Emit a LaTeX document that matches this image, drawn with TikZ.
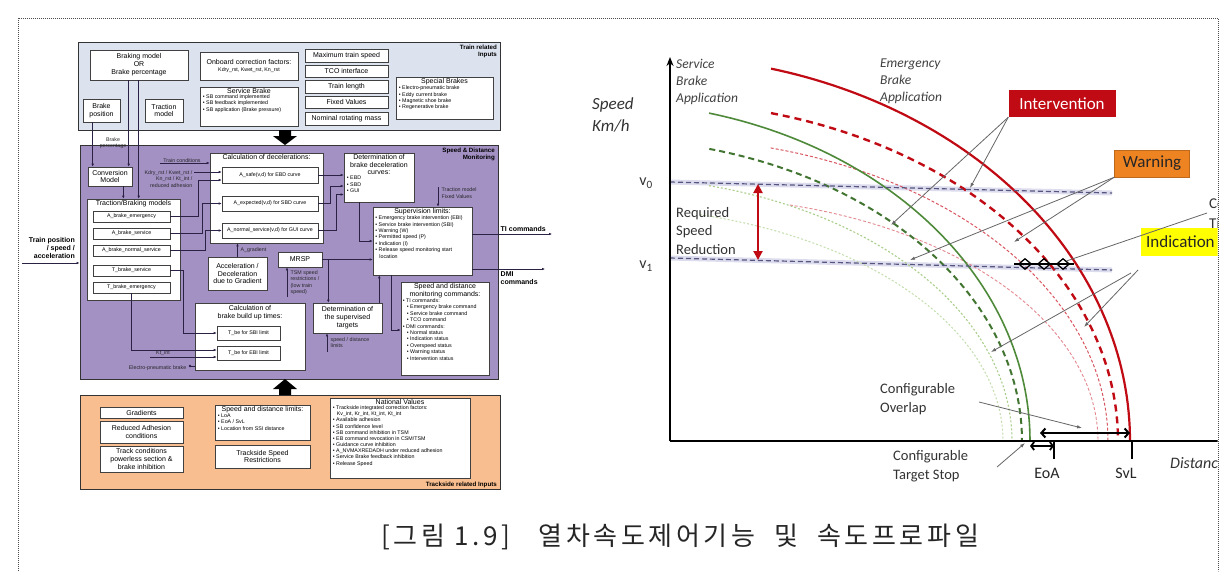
\documentclass[tikz,border=0pt]{standalone}
\usepackage{fontspec}
\setmainfont{Liberation Sans}
\newfontfamily\arialf{Liberation Sans}
\newfontfamily\calf{Carlito}
\newfontfamily\krf[LetterSpace=14]{Noto Sans CJK KR}
\usetikzlibrary{arrows.meta,shapes.geometric,calc}
\definecolor{topfill}{HTML}{DDE3EE}
\definecolor{midfill}{HTML}{A391C4}
\definecolor{botfill}{HTML}{F9BE8F}
\definecolor{linec}{HTML}{2B2145}
\definecolor{ivred}{HTML}{C00A14}
\definecolor{wnor}{HTML}{EE8322}
\definecolor{indy}{HTML}{FFFF00}
\definecolor{sbgreen}{HTML}{4E8A3A}
\definecolor{lgreen}{HTML}{A9CE8A}
\definecolor{pinkr}{HTML}{D95560}
\definecolor{vline}{HTML}{55557F}
\definecolor{vband}{HTML}{DCDCEE}
\newcommand\fA{\arialf\fontsize{7}{7.9}\selectfont}
\newcommand\fB{\arialf\fontsize{5.3}{6.4}\selectfont}
\newcommand\fT{\arialf\bfseries\fontsize{6.2}{7}\selectfont}
\newcommand\cf[2]{\calf\fontsize{#1}{#2}\selectfont}
\newcommand\bl{\textbullet\ }
\newcommand\ind{\hspace*{4pt}}
\tikzset{
 lbox/.style={draw=black!75, fill=white, line width=0.6pt, inner sep=0pt, align=center, font=\fA},
 panel/.style={draw=black!80, line width=0.9pt},
 conn/.style={draw=linec, line width=0.6pt, -{Latex[length=3pt,width=2.6pt]}},
 plain/.style={draw=linec, line width=0.6pt},
 lab/.style={font=\fB, inner sep=0.5pt, align=center, text=black!85},
 ann/.style={draw=black!60, line width=0.8pt, -{Latex[length=5pt,width=3.5pt]}},
 barb/.style={line width=2pt, {Straight Barb[length=4pt,width=9pt]}-{Straight Barb[length=4pt,width=9pt]}},
}
\newcommand\bx[7][]{\node[lbox,minimum width={(#5-#3)*1pt},minimum height={(#6-#4)*1pt},#1] (#2) at ({(#3+#5)/2},{(#4+#6)/2}) {#7};}
\newcommand\ttl[3][1.2]{\node[font=\fA,anchor=north,align=center,inner sep=0pt] (#2-t) at ($(#2.north)+(0,#1)$) {#3};}
\newcommand\bul[3][3]{\node[font=\fB,anchor=north west,align=left,inner sep=0pt] (#2-b) at ($(#2-t.south -| #2.west)+(#1,0.8)$) {#3};}
\newcommand\ecurve[5][]{\draw[#1] plot[domain=#5:0,samples=70,variable=\t] ({#2+#3*cos(\t)},{441-#4*sin(\t)});}
\begin{document}
\begin{tikzpicture}[x=1pt,y=-1pt]
\useasboundingbox (0,0) rectangle (1226,571);
\fill[white] (0,0) rectangle (1226,571);
\draw[black!70, line width=0.8pt, dash pattern=on 0.8pt off 1.2pt] (18,571) -- (18,18) -- (1218,18) -- (1218,571);

% ---------- top panel ----------
\bx[panel,fill=topfill]{trin}{78}{42}{500}{130}{}
\node[font=\fT,align=right,anchor=north east,inner sep=0pt] (trin-l) at (497,45) {Train related\\Inputs};
\bx{bmodel}{90}{50}{188}{80}{Braking model\\OR\\Brake percentage}
\bx{onb}{200}{52}{298}{80}{Onboard correction factors:\\{\fB Kdry\_rst, Kwet\_rst, Kn\_rst}}
\bx{bpos}{83}{99}{120}{122}{Brake\\position}
\bx{tmod}{145}{99}{183}{122}{Traction\\model}
\bx{sbrk}{200}{87}{298}{126}{}
\ttl{sbrk}{Service Brake}
\bul{sbrk}{\bl SB command implemented\\\bl SB feedback implemented\\\bl SB application (Brake pressure)}
\bx{mts}{305}{49}{388}{62}{Maximum train speed}
\bx{tco}{305}{65}{388}{77}{TCO interface}
\bx{tlen}{305}{80}{388}{93}{Train length}
\bx{fval}{305}{96}{388}{108}{Fixed Values}
\bx{nrm}{305}{112}{388}{125}{Nominal rotating mass}
\bx{spb}{396}{77}{493}{119}{}
\ttl{spb}{Special Brakes}
\bul{spb}{\bl Electro-pneumatic brake\\\bl Eddy current brake\\\bl Magnetic shoe brake\\\bl Regenerative brake}

% ---------- middle panel ----------
\bx[panel,fill=midfill]{sdm}{80}{145}{498}{379}{}
\node[font=\fT,align=right,anchor=north east,inner sep=0pt] (sdm-l) at (495,148) {Speed \& Distance\\Monitoring};
\bx{conv}{88}{167}{132}{186}{Conversion\\Model}
\bx{tbm}{87}{199}{180}{300}{}
\ttl{tbm}{Traction/Braking models}
\bx[font=\fB]{abe}{93}{211}{170}{222}{A\_brake\_emergency}
\bx[font=\fB]{abs}{93}{228}{170}{239}{A\_brake\_service}
\bx[font=\fB]{abn}{93}{245}{170}{256}{A\_brake\_normal\_service}
\bx[font=\fB]{tbs}{93}{265}{170}{276}{T\_brake\_service}
\bx[font=\fB]{tbe}{93}{282}{170}{293}{T\_brake\_emergency}
\bx{cdec}{210}{153}{323}{243}{}
\ttl{cdec}{Calculation of decelerations:}
\bx[font=\fB]{asafe}{222}{167}{318}{183}{A\_safe(v,d) for EBD curve}
\bx[font=\fB]{aexp}{222}{196}{318}{211}{A\_expected(v,d) for SBD curve}
\bx[font=\fB]{anorm}{222}{223}{318}{238}{A\_normal\_service(v,d) for GUI curve}
\bx{accg}{208}{257}{267}{290}{Acceleration /\\Deceleration\\due to Gradient}
\bx{mrsp}{278}{252}{322}{267}{MRSP}
\bx{cbt}{195}{303}{305}{370}{}
\ttl[3]{cbt}{Calculation of\\brake build up times:}
\bx[font=\fB]{tsbi}{217}{326}{280}{340}{T\_be for SBI limit}
\bx[font=\fB]{tebi}{217}{346}{280}{360}{T\_be for EBI limit}
\bx{dst}{313}{303}{382}{333}{Determination of\\the supervised\\targets}
\bx{dbc}{344}{153}{414}{202}{}
\ttl{dbc}{Determination of\\brake deceleration\\curves:}
\bul{dbc}{\bl EBD\\\bl SBD\\\bl GUI}
\bx{svl}{373}{207}{472}{275}{}
\ttl{svl}{Supervision limits:}
\bul[2.5]{svl}{\bl Emergency brake intervention (EBI)\\\bl Service brake intervention (SBI)\\\bl Warning (W)\\\bl Permitted speed (P)\\\bl Indication (I)\\\bl Release speed monitoring start\\\ind location}
\bx{sdc}{401}{282}{489}{375}{}
\ttl{sdc}{Speed and distance\\monitoring commands:}
\bul[2]{sdc}{\bl TI commands:\\\ind\bl Emergency brake command\\\ind\bl Service brake command\\\ind\bl TCO command\\\bl DMI commands:\\\ind\bl Normal status\\\ind\bl Indication status\\\ind\bl Overspeed status\\\ind\bl Warning status\\\ind\bl Intervention status}

% ---------- bottom panel ----------
\bx[panel,fill=botfill]{trk}{80}{395}{500}{489}{}
\node[font=\fT,anchor=south east,inner sep=0pt] (trk-l) at (497,488) {Trackside related Inputs};
\bx{grad}{100}{407}{183}{418}{Gradients}
\bx{radh}{100}{421}{183}{443}{Reduced Adhesion\\conditions}
\bx{tcond}{100}{446}{183}{472}{Track conditions\\powerless section \&\\brake inhibition}
\bx{sdl}{215}{405}{310}{440}{}
\ttl{sdl}{Speed and distance limits:}
\bul{sdl}{\bl LoA\\\bl EoA / SvL\\\bl Location from SSI distance}
\bx{tsr}{215}{445}{310}{468}{Trackside Speed\\Restrictions}
\bx{nv}{330}{398}{470}{478}{}
\ttl[1.8]{nv}{National Values}
\node[font=\arialf\fontsize{5.3}{6.15}\selectfont,anchor=north west,align=left,inner sep=0pt] (nv-b) at ($(nv-t.south -| nv.west)+(3,0.6)$) {\bl Trackside integrated correction factors:\\\ind Kv\_int, Kr\_int, Kt\_int, Kt\_int\\\bl Available adhesion\\\bl SB confidence level\\\bl SB command inhibition in TSM\\\bl EB command revocation in CSM/TSM\\\bl Guidance curve inhibition\\\bl A\_NVMAXREDADH under reduced adhesion\\\bl Service Brake feedback inhibition\\\bl Release Speed};

% big block arrows
\fill (279,130) -- (291,130) -- (291,136) -- (297,136) -- (285,145) -- (273,136) -- (279,136) -- cycle;
\fill (279,395) -- (291,395) -- (291,389) -- (297,389) -- (285,379) -- (273,389) -- (279,389) -- cycle;

% ---------- labels & connectors ----------
\node[lab,anchor=north east] (bperc) at (127,137) {Brake\\percentage};
\coordinate (bp1) at ([xshift=10pt]bpos.south west);
\coordinate (bm1) at ([xshift=39pt]bmodel.south west);
\coordinate (bm2) at ([xshift=49pt]bmodel.south west);
\coordinate (cv1) at ([xshift=-9pt]conv.south east);
\draw[conn] (bp1) -- (bp1 |- conv.north);
\draw[conn] (bm1) -- (bm1 |- conv.north);
\draw[conn] (bm2) -- (bm2 |- tbm.north);
\draw[conn] (cv1) -- (cv1 |- tbm.north);

\node[font=\fA\bfseries,align=right,anchor=east,inner sep=0pt] (tpos) at (75,248) {Train position\\/ speed /\\acceleration};
\coordinate (tpin) at (22,263);
\draw[conn] (tpin) -- (tpin -| sdm.west);

\coordinate (tcin) at (160,163);
\draw[conn] (tcin) -- (tcin -| cdec.west);
\node[lab,anchor=south] (tcl) at (182,163) {Train conditions};
\node[lab,align=right,anchor=north east] (kdl) at (193,170) {Kdry\_rst / Kwet\_rst /\\Kn\_rst / Kt\_int /\\reduced adhesion};
\coordinate (kd) at (194,172);
\draw[conn] (kd) -- (kd -| asafe.west);
\draw[conn] (abe.east) -- ++(28,0) |- ([yshift=-5pt]asafe.west);
\draw[conn] (abs.east) -- ++(32,0) |- (aexp.west);
\draw[conn] (abn.east) -- ++(35,0) |- (anorm.west);
\draw[conn] (tbs.east) -- ++(13,0) |- (tsbi.west);
\draw[conn] (tbe.south) |- ([yshift=3pt]tebi.west);
\coordinate (ktin) at (150,357);
\draw[conn] (ktin) -- (ktin -| tebi.west);
\node[lab,anchor=south] (ktl) at (163,356) {Kt\_int};
\node[lab,anchor=east] (epl) at (187,368) {Electro-pneumatic brake};
\coordinate (epb) at (190,366);
\draw[plain] (epb) -- (epb -| cbt.west);
\fill[linec] (epb) circle (1.4pt);

\draw[conn] (accg.north) -- (accg.north |- cdec.south);
\node[lab,anchor=west] (agl) at (240,250) {A\_gradient};
\draw[conn] (asafe.east) -- (asafe.east -| dbc.west);
\draw[conn] (aexp.east) -- ++(12,0) |- ([yshift=-8.5pt]dbc.west);
\draw[conn] (anorm.east) -- ++(18,0) |- ([yshift=-17pt]dbc.west);
\coordinate (dbc1) at ([xshift=16pt]dbc.south west);
\draw[conn] (dbc1) |- (svl.west);
\coordinate (tfv) at (438,187);
\draw[conn] (tfv) -- (tfv |- svl.north);
\node[lab,align=left,anchor=west] (tfvl) at (441,193) {Traction model\\Fixed Values};
\draw[conn] (mrsp.east) -- (mrsp.east -| svl.west);
\coordinate (mr1) at ([xshift=6pt]mrsp.east);
\draw[conn] (mr1) -- (mr1 |- dst.north);
\coordinate (tsm) at (287,297);
\draw[conn] (tsm) -- (tsm |- mrsp.south);
\node[lab,align=left,anchor=north west] (tsml) at (290,270) {TSM speed\\restrictions /\\(low train\\speed)};
\coordinate (sdli) at (327,352);
\draw[conn] (sdli) -- (sdli |- dst.south);
\node[lab,align=left,anchor=north west] (sdll) at (330,337) {speed / distance\\limits};
\coordinate (ds1) at ([xshift=-3pt]dst.north east);
\draw[conn] (ds1) -- (ds1 |- svl.south);
\coordinate (sv1) at ([xshift=19pt]svl.south west);
\draw[conn] (sv1) |- ([yshift=-1.5pt]sdc.west);
\coordinate (tiout) at (552,234);
\draw[conn] (tiout -| svl.east) -- (tiout);
\node[font=\fA\bfseries,anchor=south west,inner sep=0.5pt] (til) at (500,232) {TI commands};
\coordinate (dmiout) at (545,269);
\draw[conn] (dmiout -| svl.east) -- (dmiout);
\node[font=\fA\bfseries,align=left,anchor=north west,inner sep=0.5pt] (dmil) at (500,271) {DMI\\commands};

% ---------- speed profile chart ----------
\begin{scope}
\clip (560,25) rectangle (1217.6,525);
\coordinate (v0a) at (670,182); \coordinate (v0b) at (1112,193);
\coordinate (v1a) at (670,258); \coordinate (v1b) at (1112,270);
\draw[vband, line width=5pt] (v0a) -- (v0b);
\draw[vband, line width=5pt] (v1a) -- (v1b);
\ecurve[lgreen!70, line width=1pt, dash pattern=on 2pt off 2pt]{597}{406}{234}{75.3}
\ecurve[lgreen, line width=1.1pt, dash pattern=on 2pt off 2pt]{606}{406}{264}{75.3}
\ecurve[pinkr!70, line width=0.9pt, dash pattern=on 3pt off 2pt]{685}{413}{244}{75.3}
\ecurve[pinkr, line width=1pt, dash pattern=on 3pt off 2pt]{656}{452}{303}{75.3}
\ecurve[sbgreen!85!black, line width=2pt, dash pattern=on 6pt off 4pt]{603}{419}{302}{75.3}
\ecurve[ivred, line width=2.4pt, dash pattern=on 7pt off 5pt]{653}{465}{339}{75.3}
\ecurve[sbgreen, line width=1.6pt]{600}{430}{339}{75.3}
\ecurve[ivred, line width=2.2pt]{649}{481}{385}{75.3}
\draw[vline, line width=1.2pt, dash pattern=on 5pt off 3pt] (v0a) -- (v0b);
\draw[vline, line width=1.2pt, dash pattern=on 5pt off 3pt] (v1a) -- (v1b);
\coordinate (orig) at (670,441); \coordinate (ytop) at (670,57); \coordinate (xend) at (1226,441);
\draw[line width=1.6pt, -{Stealth[length=9pt,width=7pt]}] (orig) -- (ytop);
\draw[line width=1.6pt] (orig) -- (xend);
\coordinate (rsr1) at (758,184); \coordinate (rsr2) at (758,260);
\draw[ivred, line width=2pt, {Triangle[length=9pt,width=9pt]}-{Triangle[length=9pt,width=9pt]}] (rsr1) -- (rsr2);

\node[font=\cf{17}{22}\itshape,text=black!80,align=left,anchor=north west,inner sep=0pt] (spd) at (592,97) {Speed\\Km/h};
\node[font=\cf{13.5}{17}\itshape,text=black!75,align=left,anchor=north west,inner sep=0pt] (sba) at (676,59) {Service\\Brake\\Application};
\node[font=\cf{13.5}{17}\itshape,text=black!75,align=left,anchor=north west,inner sep=0pt] (eba) at (880,59) {Emergency\\Brake\\Application};
\node[font=\cf{14.5}{18.5},text=black!80,align=left,anchor=north west,inner sep=0pt] (rsr) at (676,207) {Required\\Speed\\Reduction};
\node[font=\cf{16}{18},text=black!80,inner sep=0pt] (v0) at (646,183) {v\textsubscript{0}};
\node[font=\cf{16}{18},text=black!80,inner sep=0pt] (v1) at (646,266) {v\textsubscript{1}};

\node[fill=ivred,text=white,font=\cf{17}{20},minimum width=107pt,minimum height=27pt,inner sep=0pt] (intv) at (1062,103.5) {Intervention};
\node[fill=wnor,draw=wnor!80!black,line width=0.4pt,text=black!85,font=\cf{17}{20},minimum width=75pt,minimum height=27pt,inner sep=0pt] (warn) at (1152,163.5) {Warning};
\node[fill=indy,text=black!85,font=\cf{17}{20},minimum height=28pt,inner ysep=0pt,inner xsep=5pt,anchor=west] (indc) at (1141,242) {Indication};

\draw[ann] (intv.south west) -- (891,225);
\draw[ann] (intv.south west) -- (970,188);
\draw[ann] (warn.south west) -- (910,260);
\draw[ann] (warn.south west) -- (1014,242);
\coordinate (ib1) at (1138,270); \coordinate (ib2) at (1131,273);
\draw[ann] (ib1) -- (1084,327);
\draw[ann] (ib2) -- (991,352);

\coordinate (dl) at (1014,264); \coordinate (dr) at (1074,264);
\draw[line width=1.3pt] (dl) -- (dr);
\foreach \i/\x in {1/1025,2/1044,3/1063}
  \node[diamond,draw,line width=1.3pt,minimum width=13pt,minimum height=11pt,inner sep=0pt] (d\i) at (\x,264) {};
\coordinate (ceti) at (1207,213);
\draw[draw=black!60,line width=0.8pt] (d3.north east) -- (ceti);
\node[font=\cf{15}{20},text=black!80,align=left,anchor=north west,inner sep=0pt] (ct) at (1209,199) {Ce\\Ti};

\node[font=\cf{14.5}{19},text=black!80,align=left,anchor=north west,inner sep=0pt] (cfo) at (880,383) {Configurable\\Overlap};
\coordinate (cfos) at (979,402); \coordinate (cfoe) at (1082,428);
\draw[ann] (cfos) -- (cfoe);
\coordinate (ov1) at (1040,433); \coordinate (ov2) at (1130,433);
\draw[barb] (ov1) -- (ov2);
\coordinate (ts1) at (1030,446); \coordinate (ts2) at (1054,446);
\draw[line width=1.8pt, {Straight Barb[length=3pt,width=8pt]}-{Straight Barb[length=3pt,width=8pt]}] (ts1) -- (ts2);
\coordinate (eoat) at (1054,459); \coordinate (svlt) at (1132,459);
\draw[line width=1.8pt] (eoat) -- (eoat |- orig);
\draw[line width=1.8pt] (svlt) -- (svlt |- orig);
\node[font=\cf{14.5}{19},text=black!80,align=left,anchor=north west,inner sep=0pt] (cts) at (893,450) {Configurable\\Target Stop};
\coordinate (ctss) at (997,467); \coordinate (ctse) at (1025,443);
\draw[ann] (ctss) -- (ctse);
\node[font=\cf{16}{18},text=black!85,inner sep=0pt] (eoa) at (1047,473) {EoA};
\node[font=\cf{16}{18},text=black!85,inner sep=0pt] (svlab) at (1126,473) {SvL};
\node[font=\cf{16}{18}\itshape,text=black!80,anchor=west,inner sep=0pt] (dist) at (1170,463) {Distance};
\end{scope}

% caption
\node[font=\krf\fontsize{26}{30}\selectfont,text=black!85,inner sep=0pt] (cap) at (680,537) {[그림 1.9]\ \ \ 열차속도제어기능 \ 및 \ 속도프로파일};
\end{tikzpicture}
\end{document}
